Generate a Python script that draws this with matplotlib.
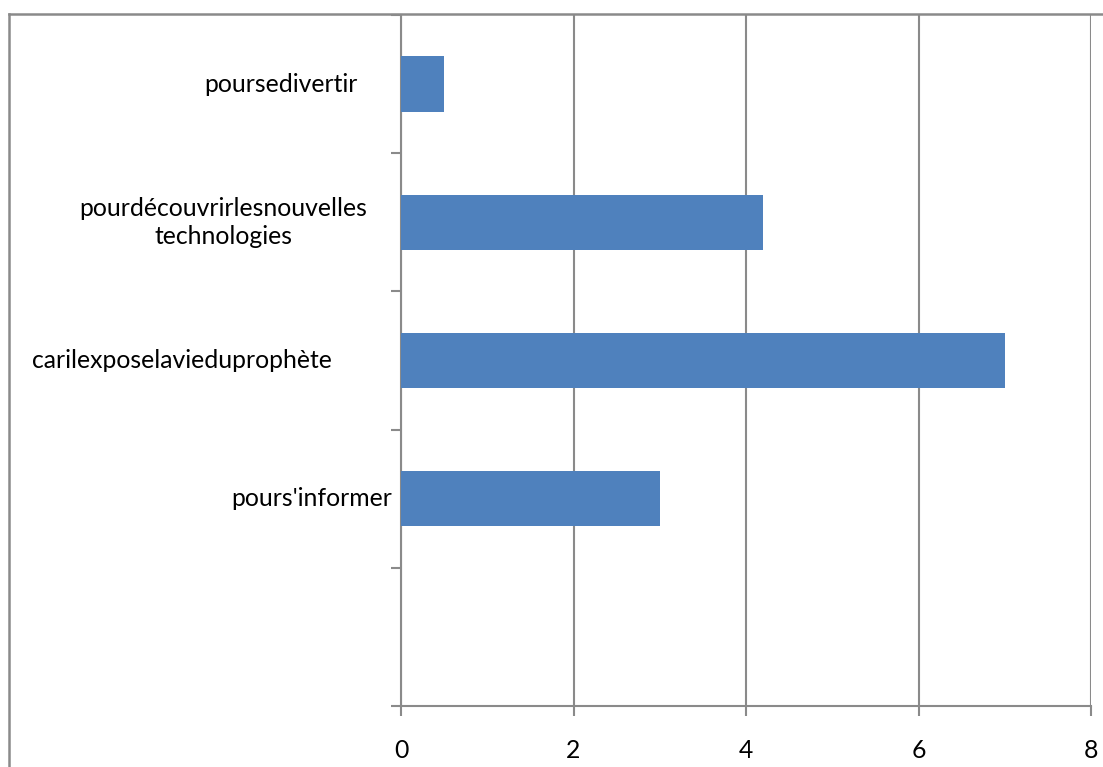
import matplotlib
matplotlib.use("Agg")
import matplotlib.pyplot as plt
from matplotlib.lines import Line2D

# Reasons given, top to bottom, and how many times each was cited
categories = ["poursedivertir", "pourdécouvrirlesnouvelles\ntechnologies",
              "carilexposelavieduprophète", "pours'informer"]
values = [0.5, 4.2, 7, 3]
x_ticks = [0, 2, 4, 6, 8]
# horizontal centre of each category label, in axes fraction
label_x = [-0.174, -0.257, -0.317, -0.130]

plt.rcParams['font.family'] = ['Lato', 'DejaVu Sans']
grid_col = "#8a8a8a"
bar_col = "#4F81BD"
fsize = 17.8

fig = plt.figure(figsize=(11.03, 7.67), dpi=100)
ax = fig.add_axes([401 / 1103, 1 - 706 / 767, 690 / 1103, 691 / 767])

n_slots = len(categories) + 1
positions = [n_slots - 1 - i for i in range(len(categories))]
ax.barh(positions, values, height=0.4, color=bar_col, zorder=3)

ax.set_xlim(0, 8)
ax.set_ylim(-0.5, n_slots - 0.5)
ax.set_xticks(x_ticks)
ax.set_xticklabels([str(t) for t in x_ticks], fontsize=fsize)
ax.tick_params(axis='x', length=7, width=1.5, color=grid_col, pad=17)
ax.xaxis.grid(True, color=grid_col, linewidth=1.5, zorder=0)

ax.set_yticks([i - 0.5 for i in range(n_slots + 1)])
ax.set_yticklabels([])
ax.tick_params(axis='y', length=7, width=1.5, color=grid_col)

for s in ["top", "right"]:
    ax.spines[s].set_visible(False)
for s in ["left", "bottom"]:
    ax.spines[s].set_color(grid_col)
    ax.spines[s].set_linewidth(1.5)

for lx, pos, lab in zip(label_x, positions, categories):
    ax.text(lx, pos, lab, transform=ax.get_yaxis_transform(), ha='center',
            va='center', fontsize=fsize, multialignment='center', linespacing=1.28)

# outer chart border (left and top edges)
fig.add_artist(Line2D([9 / 1103, 9 / 1103], [0, 1 - 14 / 767],
                      transform=fig.transFigure, color=grid_col, linewidth=1.8))
fig.add_artist(Line2D([9 / 1103, 1], [1 - 14 / 767, 1 - 14 / 767],
                      transform=fig.transFigure, color=grid_col, linewidth=1.8))

fig.savefig("out.png", dpi=100)
